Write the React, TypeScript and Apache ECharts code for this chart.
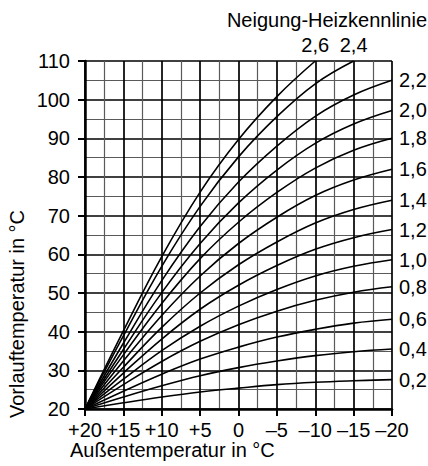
import React, { useEffect, useRef } from "react";
import * as echarts from "echarts";

// Outdoor temperature (x) sample points
const outdoorTemps = [20, 15, 10, 5, 0, -5, -10, -15, -20];

// Tick labels of the x axis
const xTickValues = [20, 15, 10, 5, 0, -5, -10, -15, -20];
const xTickLabels = ["+20", "+15", "+10", "+5", "0", "–5", "–10", "–15", "–20"];

// Slope labels (Neigung)
const slopeLabels = ["0,2", "0,4", "0,6", "0,8", "1,0", "1,2", "1,4", "1,6", "1,8", "2,0", "2,2", "2,4", "2,6"];

// Flow temperature values (Vorlauftemperatur) per curve
const curve02 = [20, 21.6, 23.1, 24.4, 25.4, 26.3, 26.9, 27.3, 27.6];
const curve04 = [20, 23.1, 26.0, 28.6, 30.7, 32.4, 33.8, 34.8, 35.5];
const curve06 = [20, 24.6, 29.0, 32.9, 36.0, 38.6, 40.6, 42.2, 43.2];
const curve08 = [20, 26.3, 32.3, 37.5, 41.8, 45.3, 48.1, 50.2, 51.6];
const curve10 = [20, 27.7, 35.1, 41.4, 46.6, 50.9, 54.4, 56.9, 58.6];
const curve12 = [20, 29.3, 38.1, 45.8, 52.0, 57.1, 61.3, 64.3, 66.4];
const curve14 = [20, 30.8, 41.1, 50.0, 57.3, 63.2, 68.1, 71.6, 74.0];
const curve16 = [20, 32.4, 44.2, 54.4, 62.8, 69.6, 75.2, 79.2, 82.0];
const curve18 = [20, 34.0, 47.3, 58.9, 68.3, 76.0, 82.3, 86.9, 90.0];
const curve20 = [20, 35.4, 50.1, 62.8, 73.3, 81.8, 88.7, 93.7, 97.2];
const curve22 = [20, 37.0, 53.2, 67.2, 78.7, 88.0, 95.7, 101.2, 105.0];
const curve24 = [20, 38.9, 56.9, 72.4, 85.2, 95.6, 104.1, 110.0];
const curve26 = [20, 40.2, 59.4, 76.1, 89.7, 100.8, 110.0];

const curves = [curve02, curve04, curve06, curve08, curve10, curve12, curve14, curve16, curve18, curve20, curve22, curve24, curve26];

// Axis range
const yMin = 20;
const yMax = 110;
const yInterval = 10;

const FONT = "'Liberation Sans', Arial, sans-serif";
const FS = 20;

export default function App() {
  const ref = useRef<HTMLDivElement>(null);

  useEffect(() => {
    document.body.style.margin = "0";
    if (!ref.current) return;
    const chart = echarts.init(ref.current, undefined, { renderer: "svg" });

    const series = curves.map((vals, ci) => {
      const reachesTop = vals.length < outdoorTemps.length;
      return {
        name: slopeLabels[ci],
        type: "line",
        data: vals.map((v, i) => [outdoorTemps[i], v]),
        smooth: 0.4,
        showSymbol: false,
        symbol: "none",
        lineStyle: { color: "#000", width: 1.6 },
        clip: true,
        z: 5,
        markPoint: {
          symbol: "circle",
          symbolSize: 0,
          data: [{ type: "max" }],
          label: {
            show: true,
            position: reachesTop ? "top" : "right",
            distance: reachesTop ? 6 : 7,
            formatter: slopeLabels[ci],
            color: "#000",
            fontSize: FS,
            fontFamily: FONT,
          },
        },
      };
    });

    chart.setOption({
      animation: false,
      grid: { left: 85, right: 36, top: 61, bottom: 57, containLabel: false },
      xAxis: {
        type: "value",
        min: -20,
        max: 20,
        interval: 5,
        inverse: true,
        axisLine: { show: true, onZero: false, lineStyle: { color: "#000", width: 2.5 } },
        axisTick: { show: true, length: 7, lineStyle: { color: "#000", width: 2 } },
        axisLabel: {
          margin: 11,
          color: "#000",
          fontSize: FS,
          fontFamily: FONT,
          formatter: (v: number) => {
            const idx = xTickValues.indexOf(v);
            return idx >= 0 ? xTickLabels[idx] : "";
          },
        },
        splitLine: { show: true, lineStyle: { color: "#000", width: 1.7 } },
        minorTick: { show: false, splitNumber: 2 },
        minorSplitLine: { show: true, lineStyle: { color: "#5a5a5a", width: 1.2 } },
      },
      yAxis: {
        type: "value",
        min: yMin,
        max: yMax,
        interval: yInterval,
        axisLine: { show: true, onZero: false, lineStyle: { color: "#000", width: 2.5 } },
        axisTick: { show: true, length: 7, lineStyle: { color: "#000", width: 2 } },
        axisLabel: { margin: 15, color: "#000", fontSize: FS, fontFamily: FONT },
        splitLine: { show: true, lineStyle: { color: "#000", width: 1.7 } },
        minorTick: { show: false, splitNumber: 2 },
        minorSplitLine: { show: true, lineStyle: { color: "#5a5a5a", width: 1.2 } },
      },
      graphic: [
        {
          type: "text",
          right: 1,
          top: 10,
          style: {
            text: "Neigung-Heizkennlinie",
            fill: "#000",
            fontSize: FS,
            fontFamily: FONT,
          },
        },
        {
          type: "text",
          left: 70,
          top: 440,
          style: {
            text: "Außentemperatur in °C",
            fill: "#000",
            fontSize: FS,
            fontFamily: FONT,
          },
        },
        {
          type: "text",
          x: 17,
          y: 314,
          rotation: Math.PI / 2,
          style: {
            text: "Vorlauftemperatur in °C",
            fill: "#000",
            fontSize: FS,
            fontFamily: FONT,
            align: "center",
            verticalAlign: "middle",
            textAlign: "center",
            textVerticalAlign: "middle",
          },
        },
      ],
      series,
    });

    return () => chart.dispose();
  }, []);

  return <div ref={ref} style={{ width: 428, height: 466 }} />;
}
